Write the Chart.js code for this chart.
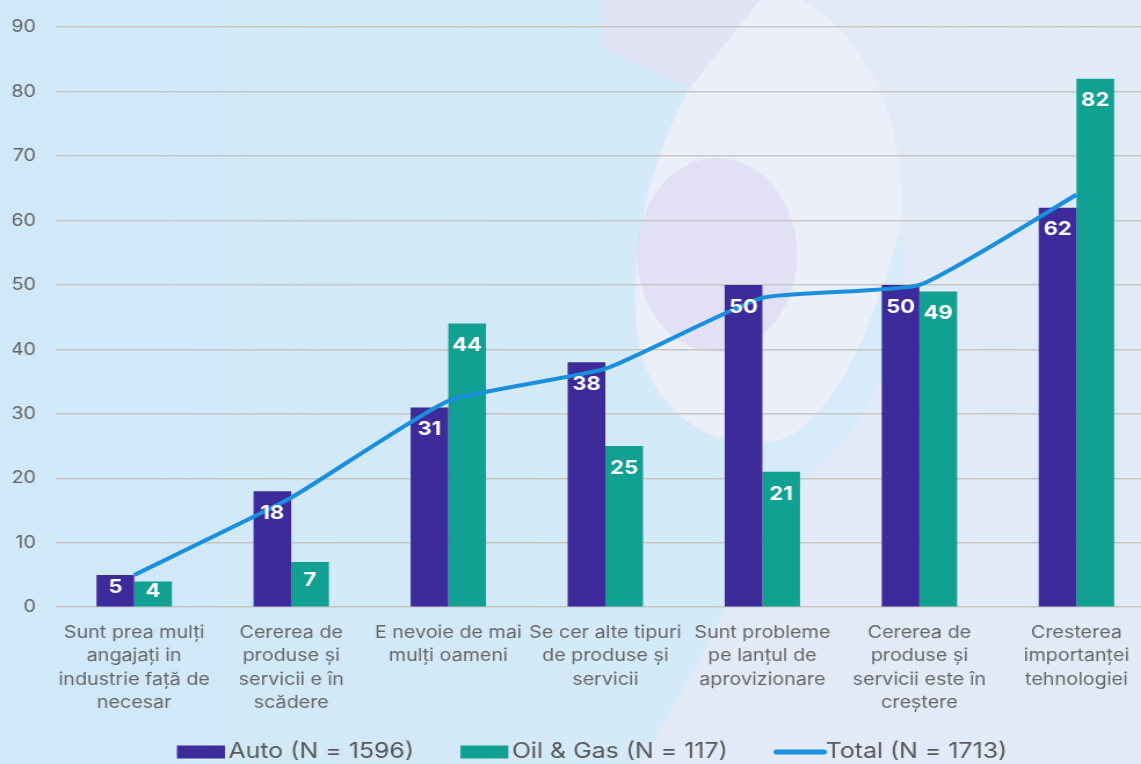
<!DOCTYPE html>
<html>
<head>
<meta charset="utf-8">
<script src="https://cdn.jsdelivr.net/npm/chart.js@4.4.1/dist/chart.umd.min.js"></script>
<style>
  html, body { margin: 0; padding: 0; background: #d6ebf9; overflow: hidden; }
  /* the original graphic is stretched horizontally and cut on the right,
     so draw narrower, stretch, and let the page clip it */
  #wrap { width: 998px; height: 764px; position: relative; transform: scaleX(1.1596); transform-origin: 0 0; }
</style>
</head>
<body>
<div id="wrap"><canvas id="myChart"></canvas></div>
<script>
var categories = [
    ["Sunt prea mulți", "angajați in", "industrie față de", "necesar"],
    ["Cererea de", "produse și", "servicii e în", "scădere"],
    ["E nevoie de mai", "mulți oameni"],
    ["Se cer alte tipuri", "de produse și", "servicii"],
    ["Sunt probleme", "pe lanțul de", "aprovizionare"],
    ["Cererea de", "produse și", "servicii este în", "creștere"],
    ["Cresterea", "importanței", "tehnologiei"]
];
var autoValues = [5, 18, 31, 38, 50, 50, 62];
var oilGasValues = [4, 7, 44, 25, 21, 49, 82];
var totalValues = [5, 17, 32, 37, 48, 50, 64];
var seriesNames = ["Auto (N = 1596)", "Oil & Gas (N = 117)", "Total (N = 1713)"];
var yTicks = [0, 10, 20, 30, 40, 50, 60, 70, 80, 90];

const FONT = "Inter, 'DejaVu Sans', sans-serif"
const STRETCH = 1.1596

const background = {
    id: "background",
    beforeDraw(chart) {
        const ctx = chart.ctx
        const h = chart.height
        ctx.save()
        ctx.scale(1 / STRETCH, 1)   // draw in page coordinates
        const w = 1160
        // light right side
        let g = ctx.createLinearGradient(0, 0, w, 0)
        g.addColorStop(0, "#e5e9f7")
        g.addColorStop(1, "#e1ebf8")
        ctx.fillStyle = g
        ctx.fillRect(0, 0, w, h)
        // blue part on the left, wrapping round the blob
        let gb = ctx.createLinearGradient(0, 0, 900, 0)
        gb.addColorStop(0, "#d0e8f8")
        gb.addColorStop(1, "#d7ebf9")
        ctx.beginPath()
        ctx.moveTo(0, 0)
        ctx.lineTo(603, 0)
        ctx.lineTo(603, 47)
        ctx.lineTo(690, 88)
        ctx.bezierCurveTo(655, 150, 628, 240, 637, 330)
        ctx.bezierCurveTo(645, 420, 740, 470, 800, 430)
        ctx.bezierCurveTo(850, 390, 880, 300, 900, 230)
        ctx.bezierCurveTo(920, 300, 880, 420, 813, 470)
        ctx.bezierCurveTo(770, 520, 730, 600, 700, 660)
        ctx.lineTo(640, h)
        ctx.lineTo(0, h)
        ctx.closePath()
        ctx.fillStyle = gb
        ctx.fill()
        // top band
        ctx.beginPath()
        ctx.moveTo(603, 0)
        ctx.lineTo(760, 0)
        ctx.lineTo(690, 88)
        ctx.lineTo(603, 47)
        ctx.closePath()
        ctx.fillStyle = "#e1e3f4"
        ctx.fill()
        // pale blob
        ctx.beginPath()
        ctx.moveTo(690, 88)
        ctx.bezierCurveTo(655, 150, 628, 240, 637, 330)
        ctx.bezierCurveTo(645, 420, 740, 470, 800, 430)
        ctx.bezierCurveTo(850, 390, 880, 300, 900, 230)
        ctx.bezierCurveTo(910, 150, 880, 40, 800, 0)
        ctx.lineTo(760, 0)
        ctx.closePath()
        ctx.fillStyle = "rgba(236,240,250,0.9)"
        ctx.fill()
        // lavender ellipse
        ctx.beginPath()
        ctx.ellipse(717, 255, 80, 97, 0, 0, Math.PI * 2)
        ctx.fillStyle = "rgba(216,212,240,0.55)"
        ctx.fill()
        ctx.restore()
    }
}

const barLabels = {
    id: "barLabels",
    afterDatasetsDraw(chart) {
        const ctx = chart.ctx
        ctx.save()
        ctx.font = "bold 19px " + FONT
        ctx.fillStyle = "#ffffff"
        ctx.textAlign = "center"
        ctx.textBaseline = "middle"
        chart.data.datasets.forEach((ds, i) => {
            if (ds.type === "line") return
            const meta = chart.getDatasetMeta(i)
            meta.data.forEach((bar, j) => {
                const hgt = bar.base - bar.y
                const off = Math.min(22, hgt * 0.4)
                ctx.fillText(ds.data[j], bar.x, bar.y + off)
            })
        })
        ctx.restore()
    }
}

// legend drawn by hand so the spacing can follow the original
const legendRow = {
    id: "legendRow",
    afterDraw(chart) {
        const ctx = chart.ctx
        const ds = chart.data.datasets
        const items = [ds[1], ds[2], ds[0]]
        const y = 752
        let x = 152.6
        ctx.save()
        ctx.font = "21.5px " + FONT
        ctx.textBaseline = "middle"
        ctx.textAlign = "left"
        items.forEach((d) => {
            if (d.type === "line") {
                ctx.strokeStyle = d.borderColor
                ctx.lineWidth = 5
                ctx.lineCap = "round"
                ctx.beginPath()
                ctx.moveTo(x + 2, y)
                ctx.lineTo(x + 43, y)
                ctx.stroke()
            } else {
                ctx.fillStyle = d.backgroundColor
                ctx.fillRect(x, y - 6.5, 41.4, 13)
            }
            x += 41.4 + 3
            ctx.fillStyle = "#585858"
            ctx.fillText(d.label, x, y)
            x += ctx.measureText(d.label).width + 40
        })
        ctx.restore()
    }
}

new Chart("myChart", {
    data: {
        labels: categories,
        datasets: [{
            type: "line",
            label: seriesNames[2],
            data: totalValues,
            borderColor: "#1a8fdd",
            backgroundColor: "#1a8fdd",
            borderWidth: 4,
            pointRadius: 0,
            tension: 0.15,
            order: 0
        }, {
            type: "bar",
            label: seriesNames[0],
            data: autoValues,
            backgroundColor: "#3d2a9b",
            categoryPercentage: 0.48,
            barPercentage: 1,
            order: 1
        }, {
            type: "bar",
            label: seriesNames[1],
            data: oilGasValues,
            backgroundColor: "#12a092",
            categoryPercentage: 0.48,
            barPercentage: 1,
            order: 1
        }]
    },
    options: {
        responsive: true,
        maintainAspectRatio: false,
        animation: false,
        layout: { padding: { top: 16, left: 11, right: 0, bottom: 49 } },
        plugins: {
            tooltip: { enabled: false },
            legend: { display: false }
        },
        scales: {
            x: {
                grid: { display: false, drawTicks: true, tickLength: 14 },
                border: { display: false },
                afterFit: (scale) => { scale.paddingLeft = 0; scale.paddingRight = 0 },
                ticks: {
                    autoSkip: false,
                    maxRotation: 0,
                    color: "#666666",
                    padding: 0,
                    font: { family: FONT, size: 17, lineHeight: 1.38 }
                }
            },
            y: {
                min: 0,
                max: 90,
                afterBuildTicks: (axis) => { axis.ticks = yTicks.map(v => ({ value: v })) },
                afterFit: (scale) => { scale.width = 37 },
                border: { display: false },
                grid: { color: "rgba(196,192,184,0.85)", lineWidth: 1.5, drawTicks: false },
                ticks: {
                    color: "#666666",
                    padding: 17,
                    font: { family: FONT, size: 17 }
                }
            }
        }
    },
    plugins: [background, barLabels, legendRow]
});
</script>
</body>
</html>
